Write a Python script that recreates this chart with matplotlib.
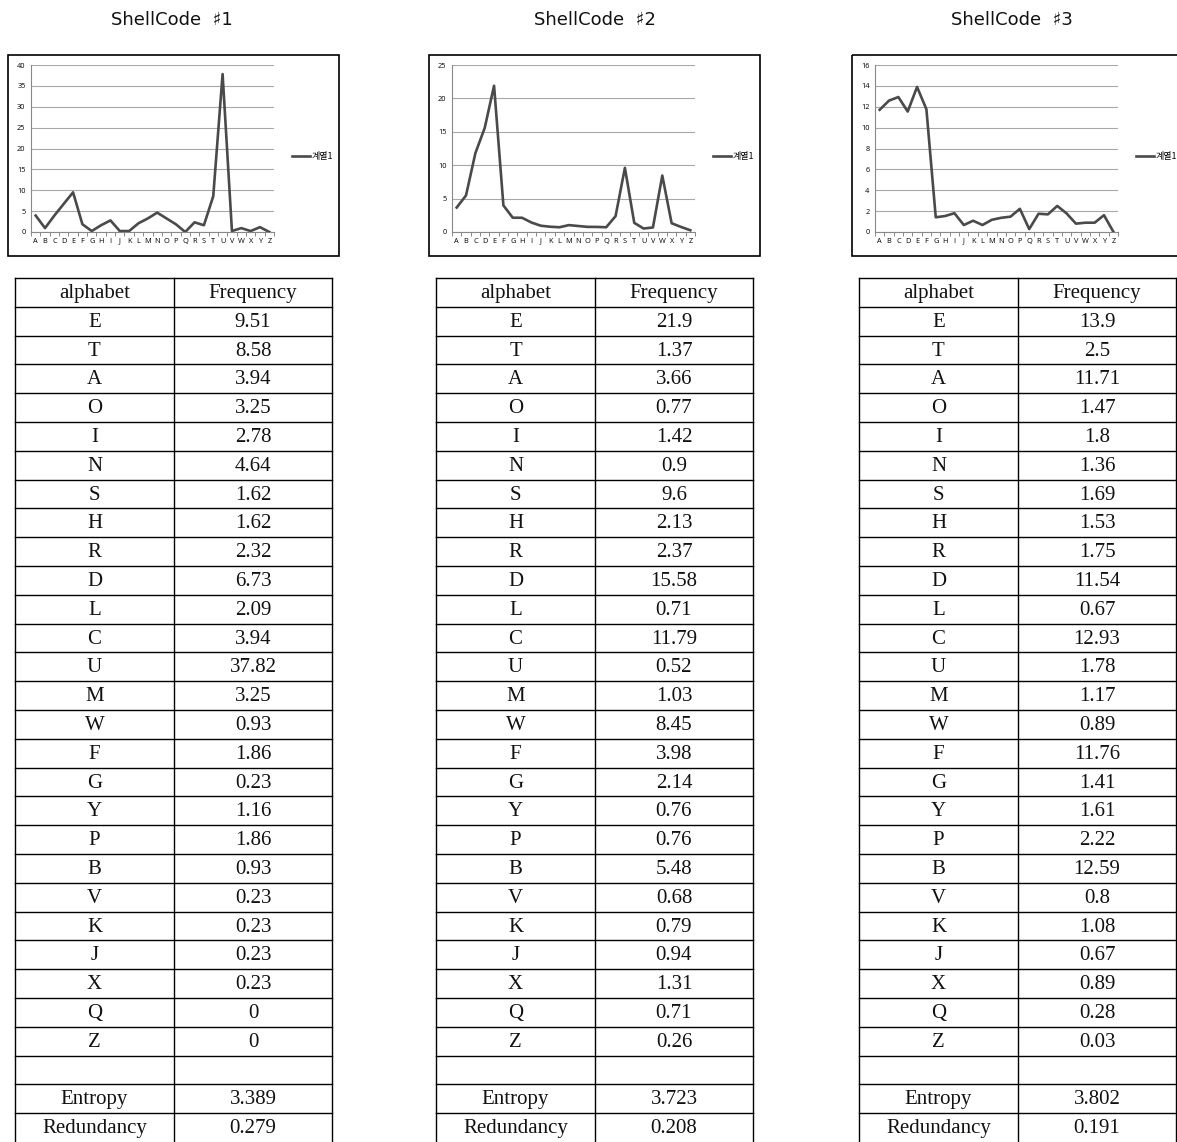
import matplotlib
matplotlib.use("Agg")
import matplotlib.pyplot as plt
import numpy as np
from matplotlib.patches import Rectangle

# letters in the order the tables list them
table_letters = ["E", "T", "A", "O", "I", "N", "S", "H", "R", "D", "L", "C", "U",
                 "M", "W", "F", "G", "Y", "P", "B", "V", "K", "J", "X", "Q", "Z"]

freq_1 = [9.51, 8.58, 3.94, 3.25, 2.78, 4.64, 1.62, 1.62, 2.32, 6.73, 2.09, 3.94, 37.82,
          3.25, 0.93, 1.86, 0.23, 1.16, 1.86, 0.93, 0.23, 0.23, 0.23, 0.23, 0, 0]
freq_2 = [21.9, 1.37, 3.66, 0.77, 1.42, 0.9, 9.6, 2.13, 2.37, 15.58, 0.71, 11.79, 0.52,
          1.03, 8.45, 3.98, 2.14, 0.76, 0.76, 5.48, 0.68, 0.79, 0.94, 1.31, 0.71, 0.26]
freq_3 = [13.9, 2.5, 11.71, 1.47, 1.8, 1.36, 1.69, 1.53, 1.75, 11.54, 0.67, 12.93, 1.78,
          1.17, 0.89, 11.76, 1.41, 1.61, 2.22, 12.59, 0.8, 1.08, 0.67, 0.89, 0.28, 0.03]
freq_str_1 = ["9.51", "8.58", "3.94", "3.25", "2.78", "4.64", "1.62", "1.62", "2.32", "6.73",
              "2.09", "3.94", "37.82", "3.25", "0.93", "1.86", "0.23", "1.16", "1.86", "0.93",
              "0.23", "0.23", "0.23", "0.23", "0", "0"]
freq_str_2 = ["21.9", "1.37", "3.66", "0.77", "1.42", "0.9", "9.6", "2.13", "2.37", "15.58",
              "0.71", "11.79", "0.52", "1.03", "8.45", "3.98", "2.14", "0.76", "0.76", "5.48",
              "0.68", "0.79", "0.94", "1.31", "0.71", "0.26"]
freq_str_3 = ["13.9", "2.5", "11.71", "1.47", "1.8", "1.36", "1.69", "1.53", "1.75", "11.54",
              "0.67", "12.93", "1.78", "1.17", "0.89", "11.76", "1.41", "1.61", "2.22", "12.59",
              "0.8", "1.08", "0.67", "0.89", "0.28", "0.03"]

entropy = ["3.389", "3.723", "3.802"]
redundancy = ["0.279", "0.208", "0.191"]
titles = ["ShellCode  \u266f1", "ShellCode  \u266f2", "ShellCode  \u266f3"]
y_max = [40, 25, 16]
y_step = [5, 5, 2]
series_name = "계열1"

alphabet = [chr(ord("A") + i) for i in range(26)]

W, H = 1177, 1142
fig = plt.figure(figsize=(W / 100, H / 100), dpi=100)
bg = fig.add_axes([0, 0, 1, 1])
bg.set_xlim(0, W)
bg.set_ylim(H, 0)
bg.axis("off")


def fig_rect(x, y, w, h):
    return [x / W, 1 - (y + h) / H, w / W, h / H]


box_left = [8, 429, 852]
title_x = [172, 595, 1012]
row_h = 28.8
table_top = 278

all_freqs = [freq_1, freq_2, freq_3]
all_strs = [freq_str_1, freq_str_2, freq_str_3]

for i in range(3):
    bx = box_left[i]
    bg.text(title_x[i], 20, titles[i], ha="center", va="center", fontsize=13,
            family=["DejaVu Sans"], color="#111111")

    # chart frame
    bg.add_patch(Rectangle((bx, 55), 331, 201, fill=False, edgecolor="black", lw=1.2))

    ax = fig.add_axes(fig_rect(bx + 23, 65, 243, 167))
    lookup = dict(zip(table_letters, all_freqs[i]))
    vals = [lookup[c] for c in alphabet]
    ax.plot(range(26), vals, color="#4a4a4a", lw=1.9, label=series_name)
    ax.set_xlim(-0.5, 25.5)
    ax.set_ylim(0, y_max[i])
    ax.set_yticks(np.arange(0, y_max[i] + 0.1, y_step[i]))
    ax.set_xticks(range(26))
    ax.set_xticklabels(alphabet, fontsize=5.3, family=["Open Sans"])
    ax.set_xticks(np.arange(-0.5, 26, 1), minor=True)
    ax.tick_params(axis="x", which="major", length=0, pad=4)
    ax.tick_params(axis="x", which="minor", length=3, color="#888888", width=0.7)
    ax.tick_params(axis="y", length=0, labelsize=5.3, pad=4)
    for lab in ax.get_yticklabels():
        lab.set_family(["Open Sans"])
    ax.grid(axis="y", color="#a8a8a8", lw=0.8)
    ax.set_axisbelow(True)
    for s in ["top", "right"]:
        ax.spines[s].set_visible(False)
    ax.spines["left"].set_color("#888888")
    ax.spines["bottom"].set_color("#888888")
    ax.spines["left"].set_linewidth(0.8)
    ax.spines["bottom"].set_linewidth(0.8)
    ax.legend(loc="center left", bbox_to_anchor=(1.04, 0.45), frameon=False,
              handlelength=2.0, handletextpad=0.15,
              prop={"family": ["Noto Sans CJK KR", "DejaVu Sans"], "size": 6.5})

    # table
    tl = bx + 7
    tm = tl + 159
    tr = tl + 317
    n_rows = 30
    for k in range(n_rows):
        y = table_top + k * row_h
        bg.plot([tl, tr], [y, y], color="black", lw=1.0)
    for x in [tl, tm, tr]:
        bg.plot([x, x], [table_top, H], color="black", lw=1.0)

    rows = [("alphabet", "Frequency")]
    rows += list(zip(table_letters, all_strs[i]))
    rows += [("", ""), ("Entropy", entropy[i]), ("Redundancy", redundancy[i])]
    for k, (a, b) in enumerate(rows):
        yc = table_top + (k + 0.5) * row_h + 1
        bg.text((tl + tm) / 2, yc, a, ha="center", va="center", fontsize=15,
                family=["Liberation Serif"], color="#111111")
        bg.text((tm + tr) / 2, yc, b, ha="center", va="center", fontsize=15,
                family=["Liberation Serif"], color="#111111")

fig.savefig("out.png", dpi=100, facecolor="white")
